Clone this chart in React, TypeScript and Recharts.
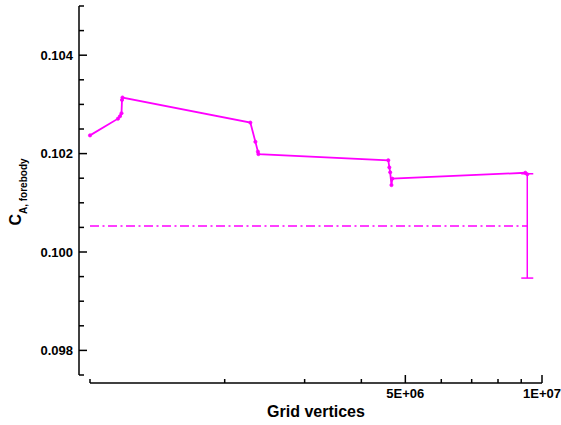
import {
  ComposedChart,
  ErrorBar,
  Label,
  Line,
  Scatter,
  XAxis,
  YAxis,
} from "recharts";

// grid vertices vs. forebody axial force coefficient
const GRID_VERTICES = [
  1.01e6, 1.164e6, 1.176e6, 1.185e6, 1.188e6, 1.191e6,
  2.278e6, 2.337e6, 2.367e6, 2.373e6,
  4.586e6, 4.61e6, 4.63e6, 4.66e6, 4.68e6,
  9.19e6, 9.28e6,
];
const CA_FOREBODY = [
  0.10237, 0.10271, 0.10276, 0.10282, 0.10309, 0.10314,
  0.10263, 0.10224, 0.10204, 0.10199,
  0.101865, 0.10172, 0.10162, 0.10136, 0.10149,
  0.10161, 0.10158,
];

// extrapolated value with its uncertainty band
const EXTRAP_X = [1.01e6, 9.28e6];
const EXTRAP_VALUE = 0.10053;
const EXTRAP_ERROR = 0.00106;

const X_DOMAIN = [1.01e6, 1e7];
const X_TICKS = [1.01e6, 2e6, 3e6, 4e6, 5e6, 6e6, 7e6, 8e6, 9e6, 1e7];
const X_LABELS: Record<number, string> = { 5e6: "5E+06", 1e7: "1E+07" };

const Y_DOMAIN = [0.0975, 0.105];
const Y_TICKS = [
  0.0975, 0.098, 0.0985, 0.099, 0.0995, 0.1, 0.1005, 0.101, 0.1015, 0.102,
  0.1025, 0.103, 0.1035, 0.104, 0.1045, 0.105,
];
const Y_LABELS: Record<string, string> = {
  "0.098": "0.098",
  "0.1": "0.100",
  "0.102": "0.102",
  "0.104": "0.104",
};

const MAGENTA = "#ff00ff";
const FONT = "'Liberation Sans', Arial, Helvetica, sans-serif";

const series = GRID_VERTICES.map((x, i) => ({ x, y: CA_FOREBODY[i] }));
const extrapLine = EXTRAP_X.map((x) => ({ x, y: EXTRAP_VALUE }));
const extrapBar = [
  { x: EXTRAP_X[1], y: EXTRAP_VALUE, err: EXTRAP_ERROR },
];

function XTick({ x, y, payload }: any) {
  const label = X_LABELS[payload.value];
  const len = label ? 8 : 4;
  return (
    <g>
      <line x1={x} x2={x} y1={y} y2={y - len} stroke="#000" strokeWidth={1.5} />
      {label && (
        <text
          x={x}
          y={y + 15}
          textAnchor="middle"
          fontFamily={FONT}
          fontWeight="bold"
          fontSize={13}
          fill="#000"
        >
          {label}
        </text>
      )}
    </g>
  );
}

function YTick({ x, y, payload }: any) {
  const label = Y_LABELS[String(payload.value)];
  const len = label ? 8 : 5;
  return (
    <g>
      <line x1={x} x2={x + len} y1={y} y2={y} stroke="#000" strokeWidth={1.5} />
      {label && (
        <text
          x={x - 6}
          y={y + 4.5}
          textAnchor="end"
          fontFamily={FONT}
          fontWeight="bold"
          fontSize={13}
          fill="#000"
        >
          {label}
        </text>
      )}
    </g>
  );
}

function YTitle() {
  const cx = 21;
  const cy = 192;
  return (
    <text
      x={cx}
      y={cy}
      transform={`rotate(-90 ${cx} ${cy})`}
      textAnchor="middle"
      fontFamily={FONT}
      fontWeight="bold"
      fill="#000"
    >
      <tspan fontSize={16}>C</tspan>
      <tspan fontSize={10} dy={6}>
        A, forebody
      </tspan>
    </text>
  );
}

export default function App() {
  return (
    <div style={{ position: "absolute", left: 0, top: 0, width: 561, height: 425, background: "#fff" }}>
      <ComposedChart
        width={561}
        height={425}
        margin={{ top: 6, right: 19, bottom: 0, left: 0 }}
      >
        {/* spacer axes keep the real axes detached from the plot frame */}
        <XAxis xAxisId="gap" height={8} axisLine={false} tickLine={false} tick={false} />
        <YAxis yAxisId="gap" width={11} axisLine={false} tickLine={false} tick={false} />

        <XAxis
          xAxisId="x"
          dataKey="x"
          type="number"
          scale="log"
          domain={X_DOMAIN}
          ticks={X_TICKS}
          interval={0}
          height={42}
          tickSize={0}
          tickMargin={0}
          tickLine={false}
          tick={<XTick />}
          axisLine={{ stroke: "#000", strokeWidth: 1.5 }}
        >
          <Label
            value="Grid vertices"
            position="insideBottom"
            offset={8}
            style={{ fontFamily: FONT, fontWeight: "bold", fontSize: 16, fill: "#000" }}
          />
        </XAxis>
        <YAxis
          yAxisId="y"
          type="number"
          domain={Y_DOMAIN}
          ticks={Y_TICKS}
          interval={0}
          width={79}
          tickSize={0}
          tickMargin={0}
          tickLine={false}
          tick={<YTick />}
          axisLine={{ stroke: "#000", strokeWidth: 1.5 }}
        >
          <Label content={<YTitle />} />
        </YAxis>

        <Line
          xAxisId="x"
          yAxisId="y"
          data={extrapLine}
          dataKey="y"
          type="linear"
          stroke={MAGENTA}
          strokeWidth={1.5}
          strokeDasharray="9 3.5 2 3.5"
          dot={false}
          isAnimationActive={false}
        />
        <Scatter
          xAxisId="x"
          yAxisId="y"
          data={extrapBar}
          dataKey="y"
          fill="none"
          shape={() => <g />}
          isAnimationActive={false}
        >
          <ErrorBar
            dataKey="err"
            direction="y"
            width={6}
            stroke={MAGENTA}
            strokeWidth={1.5}
            isAnimationActive={false}
          />
        </Scatter>
        <Line
          xAxisId="x"
          yAxisId="y"
          data={series}
          dataKey="y"
          type="linear"
          stroke={MAGENTA}
          strokeWidth={1.8}
          dot={{ r: 1.6, fill: MAGENTA, stroke: MAGENTA, strokeWidth: 0.8 }}
          isAnimationActive={false}
        />
      </ComposedChart>
    </div>
  );
}
